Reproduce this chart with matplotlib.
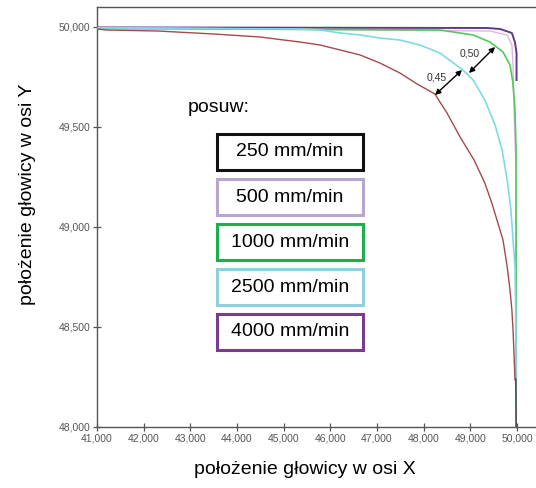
import matplotlib
matplotlib.use("Agg")
import matplotlib.pyplot as plt
from matplotlib.patches import Rectangle

plt.rcParams['font.family'] = ['Liberation Sans', 'DejaVu Sans']

# ---- data ----
red_x = [41000, 41200, 42300, 42700, 43500, 44500, 45000, 45350, 45780, 46210,
         46640, 47060, 47490, 47860, 48240, 48500, 48780, 49080, 49310, 49460,
         49590, 49700, 49790, 49850, 49890, 49915, 49935, 49957]
red_y = [49990, 49985, 49980, 49975, 49965, 49950, 49935, 49925, 49910, 49885,
         49860, 49820, 49770, 49715, 49665, 49570, 49450, 49335, 49220, 49120,
         49020, 48935, 48800, 48685, 48585, 48485, 48370, 48235]

cyan_x = [41000, 45350, 45780, 46210, 46640, 47060, 47490, 47920, 48350, 48840,
          49060, 49310, 49530, 49680, 49790, 49870, 49915, 49957, 49979, 49979, 49979]
cyan_y = [49995, 49990, 49985, 49970, 49960, 49945, 49935, 49910, 49870, 49785,
          49735, 49635, 49510, 49385, 49235, 49085, 48935, 48800, 48470, 48135, 48000]

green_x = [41000, 48350, 49060, 49420, 49700, 49850, 49910, 49955, 49980, 49980]
green_y = [49992, 49985, 49960, 49925, 49875, 49810, 49725, 49595, 49385, 48000]

pink_x = [41000, 49420, 49785, 49890, 49915, 49935, 49975, 49975]
pink_y = [49998, 49980, 49960, 49910, 49810, 49595, 49300, 48000]

purple_x = [41000, 49360, 49640, 49890, 49955, 49990, 49990]
purple_y = [49998, 49995, 49990, 49970, 49925, 49870, 49735]

black_x = [49975, 49982]
black_y = [48240, 48000]

x_ticks = [41000, 42000, 43000, 44000, 45000, 46000, 47000, 48000, 49000, 50000]
y_ticks = [48000, 48500, 49000, 49500, 50000]

legend_labels = ["250 mm/min", "500 mm/min", "1000 mm/min", "2500 mm/min", "4000 mm/min"]
legend_colors = ["#111111", "#b8a6cc", "#1fae4c", "#8ed0dc", "#7a3c8c"]

W, H = 536, 488
fig = plt.figure(figsize=(W / 100, H / 100), dpi=100)
ax = fig.add_axes([97 / W, 1 - 427 / H, 1 - 97 / W, 420 / H])
ax.set_xlim(41000, 50407)
ax.set_ylim(48000, 50100)

lw = 1.0
ax.plot(purple_x, purple_y, color="#5c3c84", lw=lw + 0.4, zorder=1)
ax.plot(pink_x, pink_y, color="#e2b4e2", lw=lw, zorder=2)
ax.plot(green_x, green_y, color="#52c95e", lw=lw + 0.2, zorder=3)
ax.plot(cyan_x, cyan_y, color="#80d8e6", lw=lw + 0.2, zorder=4)
ax.plot(red_x, red_y, color="#a44a4e", lw=lw, zorder=5)
ax.plot(black_x, black_y, color="#505050", lw=lw + 0.2, zorder=5)

for s in ["left", "bottom", "top"]:
    ax.spines[s].set_color("#555555")
    ax.spines[s].set_linewidth(1.0)
ax.spines["right"].set_visible(False)

ax.set_xticks(x_ticks)
ax.set_yticks(y_ticks)
ax.set_xticklabels([f"{v:,}" for v in x_ticks])
ax.set_yticklabels([f"{v:,}" for v in y_ticks])
ax.tick_params(direction="inout", length=6, width=0.9, color="#555555",
               labelsize=7.5, labelcolor="#555555", pad=2)

# double-headed arrows with distances
ax.annotate("", xy=(48243, 49660), xytext=(48821, 49785),
            arrowprops=dict(arrowstyle="<|-|>", color="black", lw=1.0,
                            mutation_scale=8, shrinkA=0, shrinkB=0), zorder=6)
ax.annotate("", xy=(48971, 49770), xytext=(49529, 49900),
            arrowprops=dict(arrowstyle="<|-|>", color="black", lw=1.0,
                            mutation_scale=8, shrinkA=0, shrinkB=0), zorder=6)
ax.text(48286, 49750, "0,45", fontsize=7.5, color="#333333", ha="center", va="center")
ax.text(48993, 49870, "0,50", fontsize=7.5, color="#333333", ha="center", va="center")

# legend-like boxes
fig.text(188 / W, 1 - 108 / H, "posuw:", fontsize=14, ha="left", va="center")
tops = [134, 179, 224, 269, 314]
for lab, col, t in zip(legend_labels, legend_colors, tops):
    rect = Rectangle((217 / W, 1 - (t + 36) / H), 146 / W, 36 / H,
                     transform=fig.transFigure, fill=True, facecolor="white",
                     edgecolor=col, lw=2.2, zorder=10)
    fig.add_artist(rect)
    fig.text(290 / W, 1 - (t + 18) / H, lab, fontsize=14, ha="center", va="center",
             zorder=11)

fig.text(305 / W, 1 - 470 / H, "położenie głowicy w osi X", fontsize=14,
         ha="center", va="center")
fig.text(28 / W, 1 - 194 / H, "położenie głowicy w osi Y", fontsize=14,
         ha="center", va="center", rotation=90)

fig.savefig("out.png", dpi=100, facecolor="white")
